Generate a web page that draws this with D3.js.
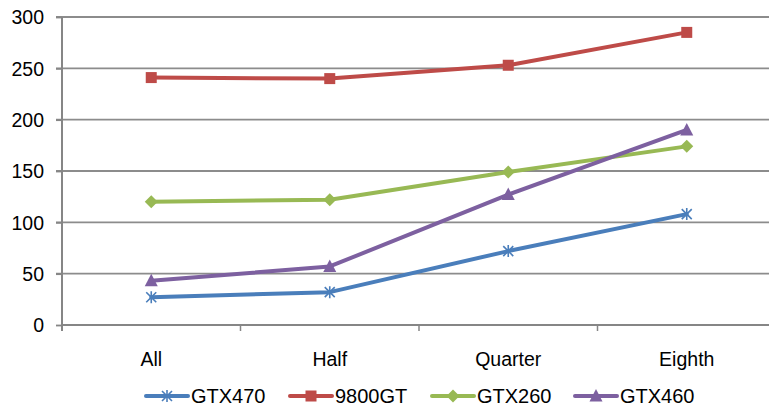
<!DOCTYPE html>
<html><head><meta charset="utf-8">
<script src="https://cdn.jsdelivr.net/npm/d3@7"></script>
<style>body{margin:0;background:#fff}svg{display:block}text{font-family:"Liberation Sans",Arial,sans-serif;fill:#000}</style>
</head><body><svg id="c" width="769" height="408"></svg>
<script>
const categories = ["All","Half","Quarter","Eighth"];
const seriesNames = ["GTX470","9800GT","GTX260","GTX460"];
const gtx470 = [27, 32, 72, 108];
const s9800gt = [241, 240, 253, 285];
const gtx260 = [120, 122, 149, 174];
const gtx460 = [43, 57, 127, 190];
const yTicks = [0,50,100,150,200,250,300];
const colors = ["#4a7ebb","#be4b48","#98b954","#7d60a0"];
const markers = ["star","square","diamond","triangle"];
const seriesValues = [gtx470, s9800gt, gtx260, gtx460];

const svg = d3.select("#c");
const pL = 62, pR = 776, pT = 17, pB = 325;
const x = d3.scaleBand().domain(categories).range([pL, pR]);
const y = d3.scaleLinear().domain([0,300]).range([pB, pT]);

// gridlines
svg.append("g").selectAll("line").data(yTicks.filter(d=>d>0)).join("line")
  .attr("x1", 56).attr("x2", 769).attr("y1", d=>y(d)).attr("y2", d=>y(d))
  .attr("stroke","#8c8c8c").attr("stroke-width",1.8);

// y axis
const yAxis = d3.axisLeft(y).tickValues(yTicks).tickSize(6).tickPadding(12);
const gy = svg.append("g").attr("transform",`translate(${pL},0)`).call(yAxis);
gy.select(".domain").remove();
gy.selectAll(".tick line").attr("stroke","#868686").attr("stroke-width",1.8);
gy.selectAll("text").style("font-size","19.5px").attr("dy","0.35em");
svg.append("line").attr("x1",pL).attr("x2",pL).attr("y1",pT).attr("y2",pB+6)
  .attr("stroke","#868686").attr("stroke-width",2);

// x axis
const gx = svg.append("g").attr("transform",`translate(0,${pB})`)
  .call(d3.axisBottom(x).tickSize(0).tickPadding(27));
gx.select(".domain").remove();
gx.selectAll("text").style("font-size","19.5px");
svg.append("line").attr("x1",pL).attr("x2",769).attr("y1",pB).attr("y2",pB)
  .attr("stroke","#868686").attr("stroke-width",2);
svg.append("g").selectAll("line").data(categories.slice(1)).join("line")
  .attr("x1", d=>x(d)).attr("x2", d=>x(d)).attr("y1", pB).attr("y2", pB+6)
  .attr("stroke","#868686").attr("stroke-width",1.5);

function drawMarker(g, type, color){
  if(type==="square"){
    g.append("rect").attr("x",-5.5).attr("y",-5.5).attr("width",11).attr("height",11).attr("fill",color);
  } else if(type==="diamond"){
    g.append("path").attr("d","M0,-6.5L6.5,0L0,6.5L-6.5,0Z").attr("fill",color);
  } else if(type==="triangle"){
    g.append("path").attr("d","M0,-7L6.5,5.5L-6.5,5.5Z").attr("fill",color);
  } else {
    g.append("path").attr("d","M-5,-5L5,5M-5,5L5,-5M0,-6L0,6").attr("stroke",color).attr("stroke-width",1.6).attr("fill","none");
  }
}

const line = d3.line().x((d,i)=>x(categories[i])+x.bandwidth()/2).y(d=>y(d));
seriesValues.forEach((vals, si)=>{
  const g = svg.append("g");
  g.append("path").attr("d", line(vals)).attr("fill","none").attr("stroke",colors[si])
    .attr("stroke-width",4).attr("stroke-linejoin","round").attr("stroke-linecap","round");
  vals.forEach((v,i)=>{
    const m = g.append("g").attr("transform",`translate(${x(categories[i])+x.bandwidth()/2},${y(v)})`);
    drawMarker(m, markers[si], colors[si]);
  });
});

// legend
const legX = [146, 290, 432, 575];
const legY = 396;
seriesNames.forEach((n, si)=>{
  const g = svg.append("g").attr("transform",`translate(${legX[si]},${legY})`);
  g.append("line").attr("x1",0).attr("x2",42).attr("y1",0).attr("y2",0)
    .attr("stroke",colors[si]).attr("stroke-width",4).attr("stroke-linecap","round");
  const m = g.append("g").attr("transform","translate(21,0)");
  drawMarker(m, markers[si], colors[si]);
  g.append("text").attr("x",45).attr("y",7).style("font-size","20px").text(n);
});
</script></body></html>
